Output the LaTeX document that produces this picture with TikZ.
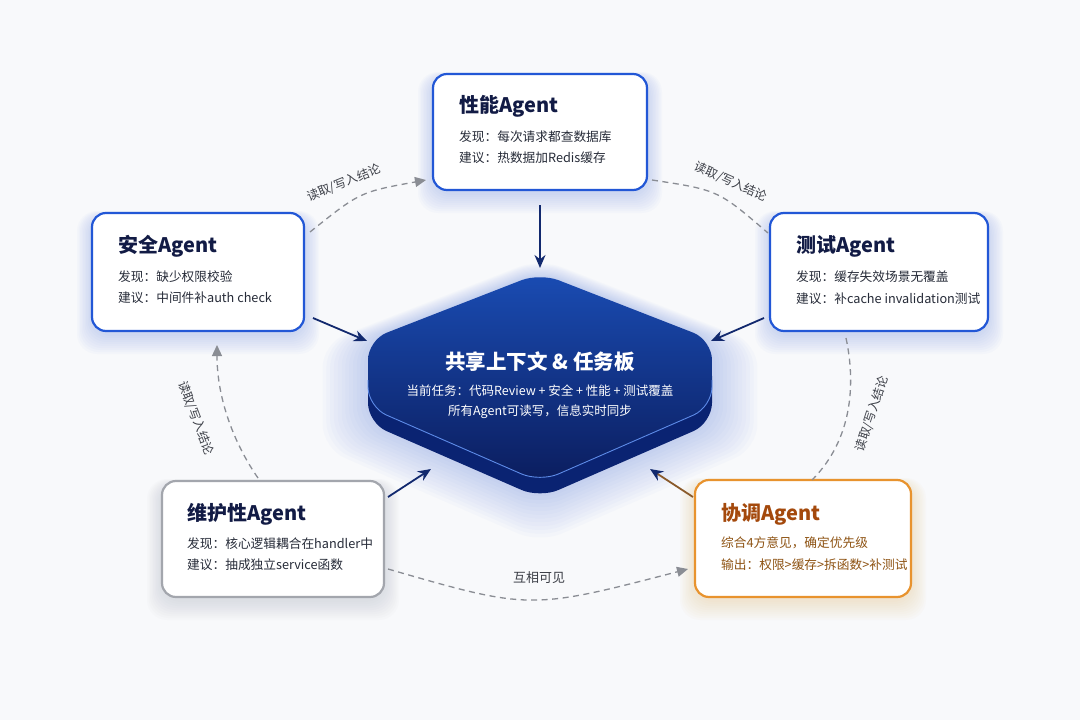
\documentclass[tikz,border=0pt]{standalone}
\usepackage{fontspec}
\setmainfont{Noto Sans CJK SC}
\usetikzlibrary{arrows.meta}
\definecolor{bgc}{HTML}{F8F9FB}
\definecolor{cardblue}{HTML}{2257D6}
\definecolor{cardgray}{HTML}{A3A6AD}
\definecolor{cardorange}{HTML}{E8932E}
\definecolor{navytxt}{HTML}{121B45}
\definecolor{bodytxt}{HTML}{262B38}
\definecolor{orgtitle}{HTML}{A4490C}
\definecolor{orgbody}{HTML}{8E5313}
\definecolor{navyarr}{HTML}{12296E}
\definecolor{brownline}{HTML}{8A5A2A}
\definecolor{dashgray}{HTML}{8A8D94}
\definecolor{lblgray}{HTML}{3C3F47}
\definecolor{glowblue}{HTML}{5C7FD8}
\definecolor{glowgray}{HTML}{9AA0AC}
\definecolor{gloworange}{HTML}{F0B060}
\definecolor{hexlight}{HTML}{1A4CB3}
\definecolor{hexdark}{HTML}{0B1D5E}
\definecolor{hexside}{HTML}{0A2372}
\definecolor{hexedge}{HTML}{5D8BE8}
\newcommand\cardglow[5]{\foreach \k in {1,...,10}{\fill[#5,opacity=0.028,rounded corners=20pt] ({#1-1.5*\k},{#2-0.5*\k+3}) rectangle ({#3+1.5*\k},{#4+2*\k+3});}}
\begin{document}
\begin{tikzpicture}[x=1pt,y=-1pt,
  card/.style={draw=cardblue, line width=2.2pt, fill=white, rounded corners=14pt, inner sep=0pt},
  ttl/.style={font=\fontsize{20}{24}\selectfont\bfseries, text=navytxt, anchor=west, inner sep=0pt},
  bdy/.style={font=\fontsize{12.7}{15}\selectfont, text=bodytxt, anchor=west, inner sep=0pt},
  hubttl/.style={font=\fontsize{20.5}{24}\selectfont\bfseries, text=white, inner sep=0pt},
  hubbdy/.style={font=\fontsize{12.5}{15}\selectfont, text=white, inner sep=0pt},
  lbl/.style={font=\fontsize{12.2}{14}\selectfont, text=lblgray, inner sep=0pt},
  dsh/.style={draw=dashgray, line width=1.3pt, dash pattern=on 6pt off 4.5pt},
  dtip/.style={-{Triangle[length=11pt,width=10pt,color=dashgray]}},
  sol/.style={draw=navyarr, line width=1.8pt, -{Stealth[length=13pt,width=11pt,color=navyarr]}}
]
\useasboundingbox (0,0) rectangle (1080,720);
\fill[bgc] (0,0) rectangle (1080,720);

% soft glows
\cardglow{433}{74}{647}{190}{glowblue}
\cardglow{92}{213}{304}{331}{glowblue}
\cardglow{770}{213}{988}{331}{glowblue}
\cardglow{162}{481}{384}{597}{glowgray}
\cardglow{695}{480}{911}{597}{gloworange}

% central hub
\begin{scope}[shift={(540,400)}]
  \foreach \k in {1,...,12}{
    \fill[glowblue,opacity=0.028,rounded corners=24pt,shift={(0,{\k*1.6})},scale={1+0.022*\k}]
      (0,-127) -- (172,-60) -- (172,23) -- (0,98) -- (-172,23) -- (-172,-60) -- cycle;}
  \fill[hexside,rounded corners=20pt]
      (0,-111) -- (172,-44) -- (172,23) -- (0,98) -- (-172,23) -- (-172,-44) -- cycle;
  \shade[top color=hexlight,bottom color=hexdark,rounded corners=20pt]
      (0,-127) -- (172,-60) -- (172,7) -- (0,82) -- (-172,7) -- (-172,-60) -- cycle;
  \draw[hexedge,line width=0.9pt,rounded corners=20pt]
      (172,-20) -- (172,7) -- (0,82) -- (-172,7) -- (-172,-20);
\end{scope}
\node[hubttl] (hubt) at (540,362) {共享上下文 \& 任务板};
\node[hubbdy] (hubb1) at (540,391) {当前任务：代码Review + 安全 + 性能 + 测试覆盖};
\node[hubbdy] (hubb2) at (540,412) {所有Agent可读写，信息实时同步};

% cards
\node[card, minimum width=214pt, minimum height=116pt] (perf) at (540,132) {};
\node[card, minimum width=212pt, minimum height=118pt] (sec) at (198,272) {};
\node[card, minimum width=218pt, minimum height=118pt] (test) at (879,272) {};
\node[card, draw=cardgray, minimum width=222pt, minimum height=116pt] (maint) at (273,539) {};
\node[card, draw=cardorange, minimum width=216pt, minimum height=117pt] (coord) at (803,538.5) {};

\node[ttl] (perf-t) at (459,106) {性能Agent};
\node[bdy] (perf-a) at (459,137) {发现：每次请求都查数据库};
\node[bdy] (perf-b) at (459,158) {建议：热数据加Redis缓存};

\node[ttl] (sec-t) at (118,246) {安全Agent};
\node[bdy] (sec-a) at (118,277) {发现：缺少权限校验};
\node[bdy] (sec-b) at (118,298) {建议：中间件补auth check};

\node[ttl] (test-t) at (796,246) {测试Agent};
\node[bdy] (test-a) at (796,277) {发现：缓存失效场景无覆盖};
\node[bdy] (test-b) at (796,299) {建议：补cache invalidation测试};

\node[ttl] (maint-t) at (187,514) {维护性Agent};
\node[bdy] (maint-a) at (187,544) {发现：核心逻辑耦合在handler中};
\node[bdy] (maint-b) at (187,565) {建议：抽成独立service函数};

\node[ttl, text=orgtitle] (coord-t) at (721,514) {协调Agent};
\node[bdy, text=orgbody] (coord-a) at (721,543) {综合4方意见，确定优先级};
\node[bdy, text=orgbody] (coord-b) at (721,565) {输出：权限>缓存>拆函数>补测试};

% solid arrows into the hub
\coordinate (hubN) at (540,268);
\coordinate (hubW) at (367,341);
\coordinate (hubE) at (711,341);
\coordinate (hubSW) at (431,469);
\coordinate (hubSE) at (650,469);
\coordinate (secO) at (313,318);
\coordinate (testO) at (764,318);
\coordinate (maintO) at (388,497);
\coordinate (coordO) at (693,497);
\draw[sol, shorten <=14pt] (perf.south) -- (hubN);
\draw[sol] (secO) -- (hubW);
\draw[sol] (testO) -- (hubE);
\draw[sol] (maintO) -- (hubSW);
\draw[sol, draw=brownline] (coordO) -- (hubSE);

% dashed exchange curves
\coordinate (tlS) at (310,232);
\coordinate (tlE) at (426,180);
\coordinate (trS) at (652,180);
\coordinate (trE) at (768,233);
\coordinate (rS) at (846,338);
\coordinate (rE) at (812,480);
\coordinate (lS) at (258,478);
\coordinate (lE) at (217,345);
\coordinate (bS) at (388,569);
\coordinate (bE) at (688,569);
\draw[dsh, dtip] (tlS) .. controls (360,192) .. (tlE);
\draw[dsh] (trS) .. controls (718,190) .. (trE);
\draw[dsh] (rS) .. controls (856,385) and (852,440) .. (rE);
\draw[dsh, dtip] (lS) .. controls (235,445) and (217,400) .. (lE);
\draw[dsh, dtip] (bS) .. controls (530,610) .. (bE);

\node[lbl, rotate=22] (tl-l) at (344,183) {读取/写入结论};
\node[lbl, rotate=-24] (tr-l) at (731,182) {读取/写入结论};
\node[lbl, rotate=72] (r-l) at (872,414) {读取/写入结论};
\node[lbl, rotate=-69] (l-l) at (196,418) {读取/写入结论};
\node[lbl, font=\fontsize{13}{15}\selectfont] (b-l) at (539,578) {互相可见};
\end{tikzpicture}
\end{document}
